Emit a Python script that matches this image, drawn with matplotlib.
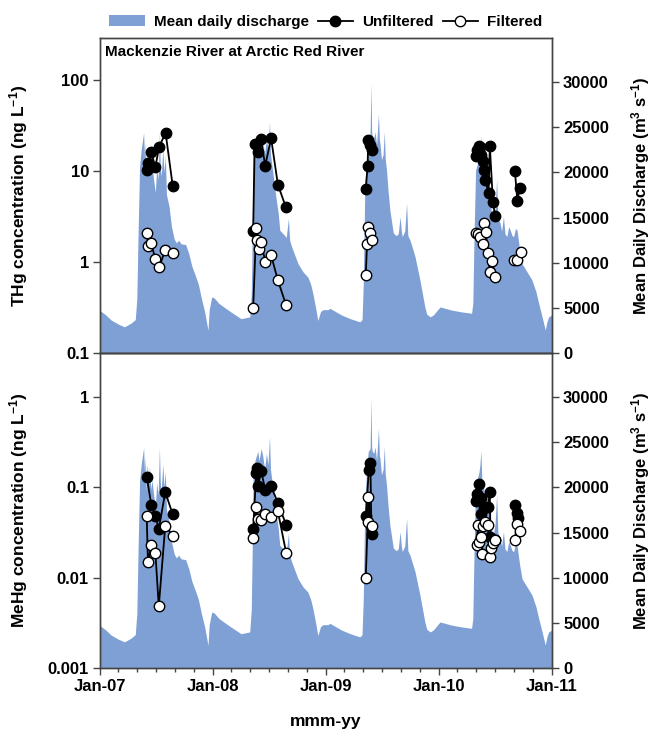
import numpy as np
import pandas as pd
import matplotlib
matplotlib.use('Agg')
import matplotlib.pyplot as plt
import matplotlib.dates as mdates
from matplotlib.lines import Line2D
from matplotlib.patches import Patch
from matplotlib.ticker import FixedLocator, FixedFormatter, NullLocator

plt.rcParams['font.family'] = 'Liberation Sans'
plt.rcParams['font.weight'] = 'bold'
plt.rcParams['mathtext.fontset'] = 'custom'
plt.rcParams['mathtext.rm'] = 'Liberation Sans:bold'
plt.rcParams['mathtext.default'] = 'rm'

# mean daily discharge, Mackenzie River at Arctic Red River (m3/s)
q_dates = ['2007-01-01', '2007-01-20', '2007-02-06', '2007-03-01', '2007-03-21', '2007-04-11',
           '2007-04-25', '2007-04-30', '2007-05-04', '2007-05-09', '2007-05-14', '2007-05-22',
           '2007-05-25', '2007-05-27', '2007-05-31', '2007-06-02', '2007-06-07', '2007-06-10',
           '2007-06-14', '2007-06-18', '2007-06-24', '2007-06-29', '2007-07-03', '2007-07-08',
           '2007-07-12', '2007-07-15', '2007-07-18', '2007-07-23', '2007-07-27', '2007-07-31',
           '2007-08-04', '2007-08-12', '2007-08-20', '2007-08-29', '2007-09-05', '2007-09-12',
           '2007-09-20', '2007-10-05', '2007-10-15', '2007-10-25', '2007-11-05', '2007-11-15',
           '2007-11-25', '2007-12-05', '2007-12-12', '2007-12-16', '2007-12-20', '2007-12-28',
           '2008-01-05', '2008-01-20', '2008-02-05', '2008-03-01', '2008-04-01', '2008-04-29',
           '2008-05-04', '2008-05-07', '2008-05-10', '2008-05-16', '2008-05-25', '2008-05-29',
           '2008-06-05', '2008-06-10', '2008-06-16', '2008-06-22', '2008-06-27', '2008-07-02',
           '2008-07-05', '2008-07-13', '2008-07-18', '2008-07-24', '2008-07-30', '2008-08-04',
           '2008-08-15', '2008-08-25', '2008-09-01', '2008-09-05', '2008-09-11', '2008-09-22',
           '2008-10-02', '2008-10-18', '2008-11-03', '2008-11-12', '2008-11-19', '2008-11-28',
           '2008-12-05', '2008-12-14', '2008-12-22', '2009-01-07', '2009-01-13', '2009-02-20',
           '2009-03-20', '2009-04-20', '2009-04-27', '2009-05-01', '2009-05-06', '2009-05-12',
           '2009-05-17', '2009-05-23', '2009-05-26', '2009-05-28', '2009-05-30', '2009-06-04',
           '2009-06-08', '2009-06-13', '2009-06-19', '2009-06-22', '2009-06-24', '2009-06-29',
           '2009-07-04', '2009-07-08', '2009-07-11', '2009-07-15', '2009-07-20', '2009-07-26',
           '2009-08-06', '2009-08-15', '2009-08-22', '2009-08-28', '2009-09-01', '2009-09-04',
           '2009-09-12', '2009-09-18', '2009-09-22', '2009-09-29', '2009-10-15', '2009-10-31',
           '2009-11-16', '2009-11-22', '2009-12-03', '2009-12-13', '2010-01-04', '2010-02-11',
           '2010-03-15', '2010-04-16', '2010-04-20', '2010-04-24', '2010-04-29', '2010-05-05',
           '2010-05-10', '2010-05-13', '2010-05-16', '2010-05-19', '2010-05-24', '2010-05-29',
           '2010-06-04', '2010-06-09', '2010-06-14', '2010-06-19', '2010-06-25', '2010-07-01',
           '2010-07-06', '2010-07-10', '2010-07-17', '2010-07-22', '2010-07-28', '2010-08-02',
           '2010-08-08', '2010-08-14', '2010-08-19', '2010-08-25', '2010-08-30', '2010-09-05',
           '2010-09-10', '2010-09-18', '2010-09-26', '2010-10-12', '2010-10-28', '2010-11-10',
           '2010-11-19', '2010-11-30', '2010-12-10', '2010-12-16', '2010-12-21', '2010-12-31']
q_values = [4700, 4200, 3650, 3200, 2900, 3300,
            3700, 6000, 13000, 20700, 22500, 24400,
            21500, 23300, 19600, 22600, 21000, 22300,
            19800, 20800, 19000, 17800, 20500, 19200,
            24400, 20500, 19600, 22600, 20000, 21800,
            17500, 16300, 14000, 12600, 12200, 12500,
            12100, 12000, 11000, 9600, 8600, 7600,
            6000, 4600, 3300, 2500, 4800, 6200,
            6100, 5500, 5100, 4500, 3800, 4000,
            6500, 13000, 21700, 23000, 24000, 23000,
            24300, 23500, 22000, 23800, 22500, 25600,
            22000, 19900, 18500, 16900, 15500, 13600,
            13200, 12800, 14900, 12500, 11800, 10800,
            9900, 9000, 8400, 7600, 6600, 5000,
            3600, 4600, 4800, 4800, 4950, 4200,
            3800, 3450, 3700, 7700, 18400, 22000,
            24000, 24300, 29900, 24500, 24000, 23800,
            24500, 23000, 26500, 23600, 23200, 21400,
            22000, 24500, 21500, 20300, 18000, 15800,
            13300, 13000, 13200, 15100, 13500, 12900,
            13500, 16600, 13000, 12500, 10700, 8100,
            5100, 4300, 4000, 4200, 5100, 4750,
            4550, 4400, 5500, 12900, 20300, 21000,
            21700, 22500, 24100, 21000, 20300, 18800,
            19200, 17500, 17700, 15500, 14700, 16000,
            19200, 15000, 14400, 13500, 15100, 13200,
            12900, 14000, 13600, 13000, 12900, 13800,
            13600, 11500, 9900, 9000, 8100, 6800,
            5500, 4000, 2550, 3500, 4000, 4200]

# total mercury, ng/L
thg_unf_dates = ['2007-06-01', '2007-06-06', '2007-06-15', '2007-06-29', '2007-07-11', '2007-08-01', '2007-08-24',
                 '2008-05-10', '2008-05-15', '2008-05-27', '2008-06-04', '2008-06-18', '2008-07-07', '2008-07-29', '2008-08-24',
                 '2009-05-09', '2009-05-15', '2009-05-17', '2009-05-22', '2009-05-30',
                 '2010-04-30', '2010-05-05', '2010-05-10', '2010-05-12', '2010-05-18', '2010-05-22',
                 '2010-05-26', '2010-05-30', '2010-06-10', '2010-06-14', '2010-06-24', '2010-07-01',
                 '2010-09-03', '2010-09-11', '2010-09-19']
thg_unf = [10.3, 12.2, 16.3, 11.1, 18.5, 26.4, 6.9,
           2.2, 20.0, 16.3, 22.5, 11.5, 23.0, 7.1, 4.0,
           6.4, 11.4, 21.9, 19.3, 17.0,
           14.5, 17.0, 19.0, 18.5, 15.0, 13.0,
           10.3, 8.0, 5.8, 19.0, 4.6, 3.2,
           10.1, 4.7, 6.6]
thg_fil_dates = ['2007-06-01', '2007-06-06', '2007-06-15', '2007-06-29', '2007-07-11', '2007-07-31', '2007-08-24',
                 '2008-05-10', '2008-05-20', '2008-05-22', '2008-05-30', '2008-06-05', '2008-06-18', '2008-07-07',
                 '2008-07-29', '2008-08-24',
                 '2009-05-09', '2009-05-13', '2009-05-17', '2009-05-22', '2009-05-28',
                 '2010-04-29', '2010-05-07', '2010-05-12', '2010-05-23', '2010-05-26', '2010-06-01',
                 '2010-06-08', '2010-06-14', '2010-06-22', '2010-07-01',
                 '2010-09-01', '2010-09-11', '2010-09-22']
thg_fil = [2.07, 1.50, 1.63, 1.07, 0.875, 1.36, 1.26,
           0.31, 2.4, 1.77, 1.38, 1.67, 1.01, 1.19,
           0.63, 0.34,
           0.72, 1.58, 2.44, 2.07, 1.77,
           2.07, 2.03, 1.90, 1.60, 2.7, 2.12,
           1.25, 0.77, 1.03, 0.68,
           1.05, 1.05, 1.28]

# methylmercury, ng/L
mehg_unf_dates = ['2007-06-01', '2007-06-16', '2007-06-29', '2007-07-10', '2007-07-31', '2007-08-24',
                  '2008-05-10', '2008-05-20', '2008-05-23', '2008-05-25', '2008-06-05', '2008-06-18',
                  '2008-07-07', '2008-07-29', '2008-08-25',
                  '2009-05-09', '2009-05-19', '2009-05-24', '2009-05-27', '2009-05-30',
                  '2010-04-29', '2010-05-02', '2010-05-10', '2010-05-15', '2010-05-18', '2010-05-26',
                  '2010-06-08', '2010-06-14', '2010-06-16', '2010-07-01',
                  '2010-09-03', '2010-09-09', '2010-09-14']
mehg_unf = [0.130, 0.0635, 0.048, 0.0345, 0.088, 0.050,
            0.034, 0.144, 0.164, 0.102, 0.150, 0.094,
            0.102, 0.067, 0.038,
            0.048, 0.154, 0.183, 0.037, 0.030,
            0.070, 0.083, 0.107, 0.050, 0.076, 0.059,
            0.061, 0.088, 0.028, 0.026,
            0.064, 0.052, 0.046]
mehg_fil_dates = ['2007-06-01', '2007-06-05', '2007-06-16', '2007-06-29', '2007-07-10', '2007-07-31', '2007-08-24',
                  '2008-05-10', '2008-05-20', '2008-05-25', '2008-06-05', '2008-06-18', '2008-07-07',
                  '2008-07-29', '2008-08-25',
                  '2009-05-09', '2009-05-15', '2009-05-17', '2009-05-28',
                  '2010-05-02', '2010-05-07', '2010-05-09', '2010-05-15', '2010-05-20', '2010-05-23',
                  '2010-05-28', '2010-06-08', '2010-06-14', '2010-06-19', '2010-06-25', '2010-07-01',
                  '2010-09-03', '2010-09-09', '2010-09-19']
mehg_fil = [0.0475, 0.0147, 0.023, 0.0188, 0.0048, 0.0376, 0.029,
            0.0276, 0.060, 0.044, 0.043, 0.050, 0.047,
            0.054, 0.0185,
            0.0098, 0.041, 0.078, 0.037,
            0.023, 0.038, 0.025, 0.028, 0.018, 0.037,
            0.041, 0.038, 0.017, 0.021, 0.024, 0.026,
            0.026, 0.039, 0.033]

blue = '#7FA0D5'
spine_col = '#444444'


def with_gaps(dates, values, gap_days=40):
    # put a NaN between sampling seasons so the lines don't join across years
    d = pd.to_datetime(dates)
    xs, ys = [], []
    for i in range(len(d)):
        if i > 0 and (d[i] - d[i - 1]).days > gap_days:
            xs.append(d[i - 1] + (d[i] - d[i - 1]) / 2)
            ys.append(np.nan)
        xs.append(d[i])
        ys.append(values[i])
    return xs, ys


def panel(rect, unf_d, unf, fil_d, fil, ylim, yticks, yticklabels, ylabel, bottom):
    ax = fig.add_axes(rect)
    axq = ax.twinx()
    ax.set_zorder(2)
    axq.set_zorder(1)
    ax.patch.set_visible(False)

    axq.fill_between(pd.to_datetime(q_dates), q_values, 0, color=blue, lw=0)
    axq.set_ylim(0, 34900)
    axq.yaxis.set_major_locator(FixedLocator(range(0, 30001, 5000)))
    axq.set_ylabel('Mean Daily Discharge (m$^{3}$ s$^{-1}$)', fontsize=12, fontweight='bold')
    axq.yaxis.set_label_coords(1.17, 0.5)

    x, y = with_gaps(unf_d, unf)
    ax.plot(x, y, '-o', color='k', mfc='k', mec='k', ms=7.5, mew=1, lw=1.3)
    x, y = with_gaps(fil_d, fil)
    ax.plot(x, y, '-o', color='k', mfc='white', mec='k', ms=7.5, mew=1, lw=1.3)

    ax.set_yscale('log')
    ax.set_ylim(*ylim)
    ax.yaxis.set_major_locator(FixedLocator(yticks))
    ax.yaxis.set_major_formatter(FixedFormatter(yticklabels))
    ax.yaxis.set_minor_locator(NullLocator())
    ax.set_ylabel(ylabel, fontsize=12.5, fontweight='bold')
    ax.yaxis.set_label_coords(-0.155, 0.5)

    ax.set_xlim(pd.Timestamp('2007-01-01'), pd.Timestamp('2011-01-01'))
    ax.xaxis.set_major_locator(mdates.YearLocator())
    ax.xaxis.set_major_formatter(mdates.DateFormatter('%b-%y'))
    ax.xaxis.set_minor_locator(mdates.MonthLocator(bymonth=[3, 5, 7, 9, 11]))

    for a in (ax, axq):
        a.tick_params(which='major', direction='out', length=5, width=1, labelsize=12,
                      color=spine_col, pad=3)
        a.tick_params(which='minor', direction='out', length=3, width=1, color=spine_col)
        for s in a.spines.values():
            s.set_color(spine_col)
            s.set_linewidth(1)
        for lab in a.get_yticklabels():
            lab.set_fontweight('bold')
    if bottom:
        ax.set_xlabel('mmm-yy', fontsize=12.5, fontweight='bold')
        ax.xaxis.set_label_coords(0.5, -0.145)
        for lab in ax.get_xticklabels():
            lab.set_fontweight('bold')
    else:
        ax.tick_params(axis='x', which='both', bottom=False, labelbottom=False)
    axq.tick_params(axis='x', which='both', bottom=False, labelbottom=False)
    return ax


fig = plt.figure(figsize=(6.57, 7.34), dpi=100)

ax1 = panel([0.1522, 0.5191, 0.688, 0.4292], thg_unf_dates, thg_unf, thg_fil_dates, thg_fil,
            (0.1, 292), [0.1, 1, 10, 100], ['0.1', '1', '10', '100'],
            'THg concentration (ng L$^{-1}$)', False)
ax1.text(0.011, 0.955, 'Mackenzie River at Arctic Red River', transform=ax1.transAxes,
         fontsize=11, fontweight='bold', va='center', ha='left')

ax2 = panel([0.1522, 0.0899, 0.688, 0.4292], mehg_unf_dates, mehg_unf, mehg_fil_dates, mehg_fil,
            (0.001, 3.04), [0.001, 0.01, 0.1, 1], ['0.001', '0.01', '0.1', '1'],
            'MeHg concentration (ng L$^{-1}$)', True)

handles = [Patch(facecolor=blue, edgecolor='none'),
           Line2D([], [], color='k', marker='o', mfc='k', mec='k', ms=7.5, lw=1.3),
           Line2D([], [], color='k', marker='o', mfc='white', mec='k', ms=7.5, lw=1.3)]
fig.legend(handles, ['Mean daily discharge', 'Unfiltered', 'Filtered'], loc='center',
           bbox_to_anchor=(0.496, 0.97), ncol=3, frameon=False, handlelength=2.3,
           handletextpad=0.6, columnspacing=0.6, prop={'weight': 'bold', 'size': 11})

fig.savefig('out.png', dpi=100)
